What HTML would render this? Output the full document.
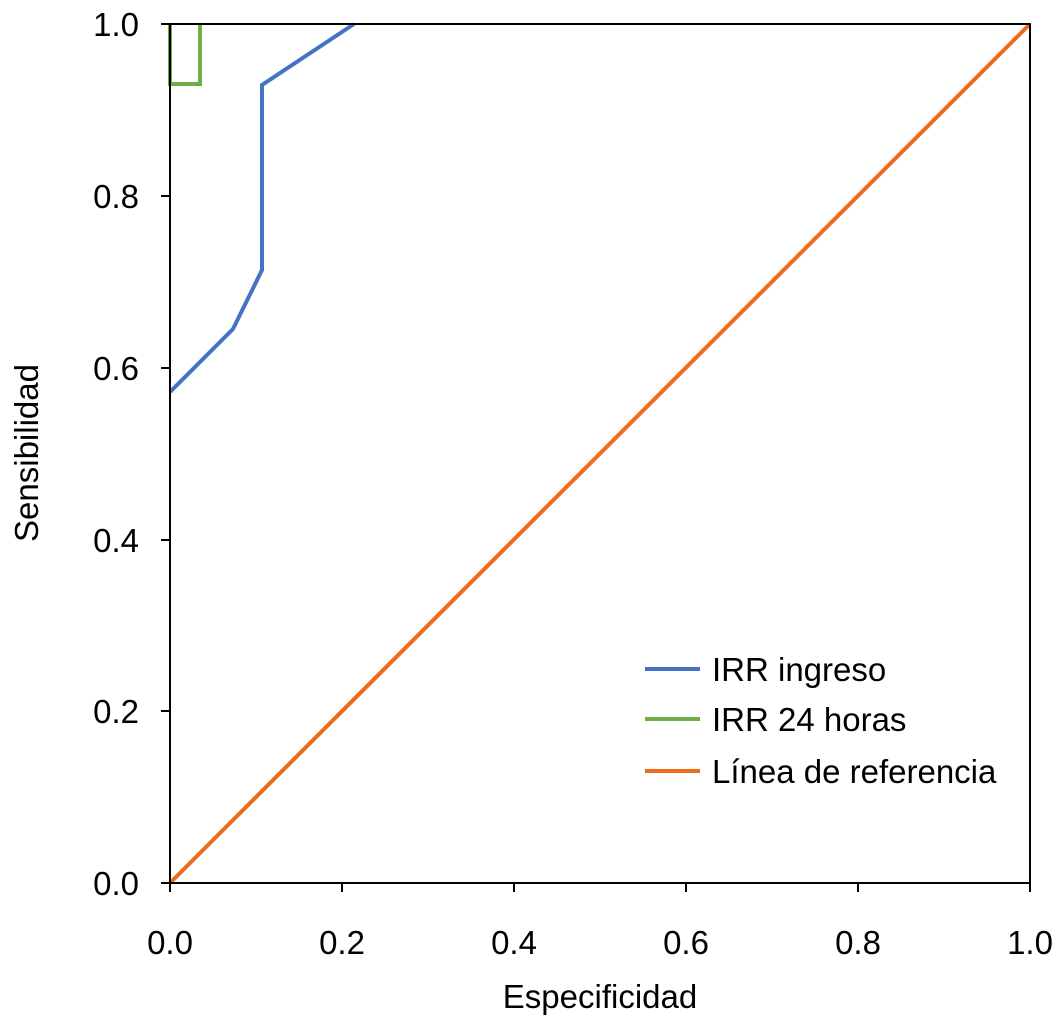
<!DOCTYPE html>
<html><head><style>body{margin:0;background:#fff}</style></head><body>
<svg width="1061" height="1024" xmlns="http://www.w3.org/2000/svg" font-family="Liberation Sans, Arial, sans-serif" font-size="33">
<rect width="1061" height="1024" fill="#fff"/>
<line x1="170" y1="883" x2="1030" y2="24" stroke="#EE6A1C" stroke-width="4"/>
<polyline points="170,392 233,329 262,270 262,85 354,24" fill="none" stroke="#4472C4" stroke-width="4"/>
<polyline points="170,24 170,84 200,84 200,24" fill="none" stroke="#70AD47" stroke-width="4"/>
<rect x="170" y="24" width="860" height="859" fill="none" stroke="#000" stroke-width="2"/>
<g stroke="#000" stroke-width="2">
<line x1="170" y1="883" x2="170" y2="892"/><line x1="342" y1="883" x2="342" y2="892"/><line x1="514" y1="883" x2="514" y2="892"/><line x1="686" y1="883" x2="686" y2="892"/><line x1="858" y1="883" x2="858" y2="892"/><line x1="1030" y1="883" x2="1030" y2="892"/>
<line x1="161" y1="883" x2="170" y2="883"/><line x1="161" y1="711" x2="170" y2="711"/><line x1="161" y1="540" x2="170" y2="540"/><line x1="161" y1="368" x2="170" y2="368"/><line x1="161" y1="196" x2="170" y2="196"/><line x1="161" y1="24" x2="170" y2="24"/>
</g>
<g text-anchor="middle">
<text x="170" y="954">0.0</text><text x="342" y="954">0.2</text><text x="514" y="954">0.4</text><text x="686" y="954">0.6</text><text x="858" y="954">0.8</text><text x="1030" y="954">1.0</text>
<text x="600" y="1008">Especificidad</text>
</g>
<g text-anchor="end">
<text x="139" y="895">0.0</text><text x="139" y="723">0.2</text><text x="139" y="552">0.4</text><text x="139" y="380">0.6</text><text x="139" y="208">0.8</text><text x="139" y="36">1.0</text>
</g>
<text transform="translate(38,453) rotate(-90)" text-anchor="middle">Sensibilidad</text>
<line x1="645" y1="669" x2="700" y2="669" stroke="#4472C4" stroke-width="4"/>
<line x1="645" y1="719" x2="700" y2="719" stroke="#70AD47" stroke-width="4"/>
<line x1="645" y1="771" x2="700" y2="771" stroke="#EE6A1C" stroke-width="4"/>
<text x="712" y="681">IRR ingreso</text>
<text x="712" y="731">IRR 24 horas</text>
<text x="712" y="783">Línea de referencia</text>
</svg>
</body></html>
